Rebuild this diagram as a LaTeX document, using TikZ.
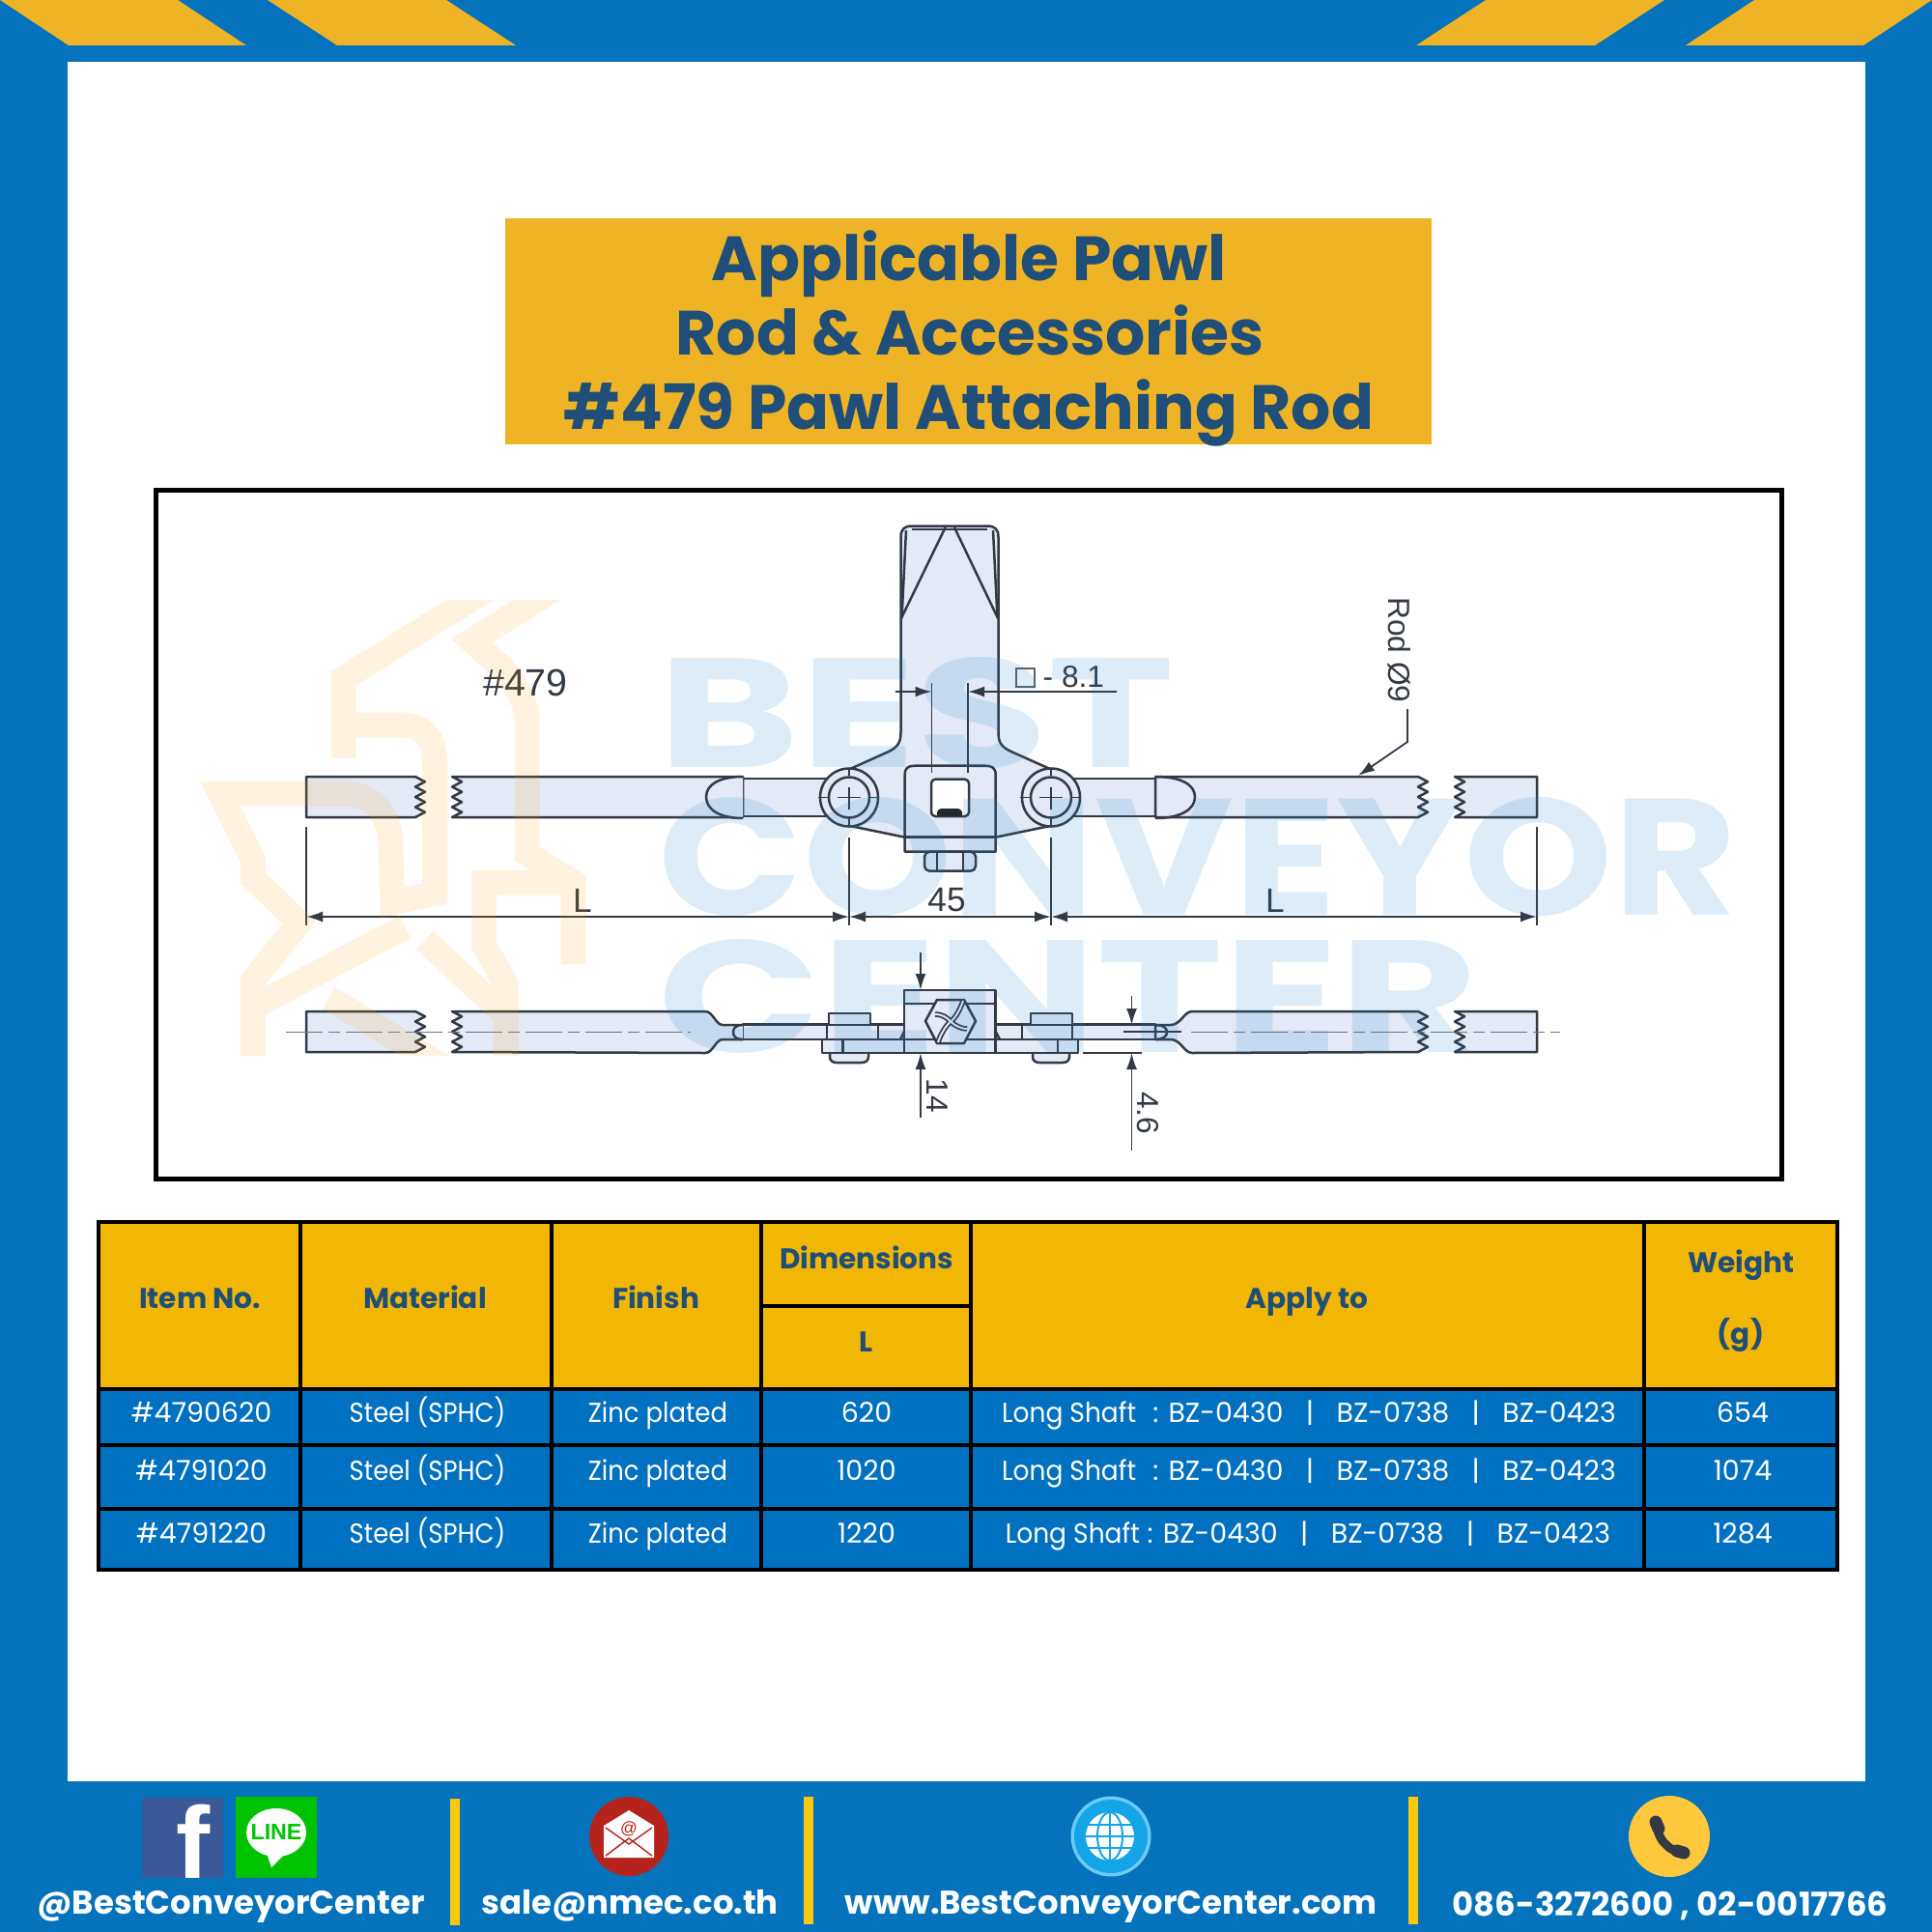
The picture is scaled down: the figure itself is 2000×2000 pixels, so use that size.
\documentclass[tikz,border=0pt]{standalone}
\usepackage{fontspec}
\usepackage{graphicx}
\setmainfont{Poppins}
\newfontfamily\lib{Liberation Sans}
\usetikzlibrary{arrows.meta}
\definecolor{frameblue}{HTML}{0473BC}
\definecolor{gold}{HTML}{EFB326}
\definecolor{titleblue}{HTML}{1F4E79}
\definecolor{headgold}{HTML}{F2B705}
\definecolor{rowblue}{HTML}{0070C0}
\definecolor{barY}{HTML}{FFC80A}
\definecolor{partfill}{HTML}{E3EAF6}
\definecolor{ink}{HTML}{343A44}
\definecolor{wmblue}{HTML}{1F80C4}
\definecolor{fbblue}{HTML}{3B5998}
\definecolor{linegreen}{HTML}{00C300}
\definecolor{mailred}{HTML}{B5231C}
\definecolor{globeA}{HTML}{6CCBF5}
\definecolor{globeB}{HTML}{14A5E8}
\definecolor{phoneY}{HTML}{FFC83D}
\tikzset{
  part/.style={draw=ink,fill=partfill,line width=0.025cm,line join=round},
  partline/.style={draw=ink,line width=0.025cm},
  dimline/.style={draw=ink,line width=0.018cm},
  tipend/.style={-{Latex[length=0.17cm,width=0.11cm]}},
  tipboth/.style={{Latex[length=0.17cm,width=0.11cm]}-{Latex[length=0.17cm,width=0.11cm]}},
  centreline/.style={draw=ink!70,line width=0.012cm,dash pattern=on 0.38cm off 0.06cm on 0.12cm off 0.06cm},
  dimtext/.style={font=\lib\fontsize{10}{12}\selectfont,text=ink,inner sep=0pt},
  dimsmall/.style={font=\lib\fontsize{9}{11}\selectfont,text=ink,inner sep=0pt},
  titletext/.style={font=\bfseries\fontsize{18.4}{22}\selectfont,text=titleblue,inner sep=0pt,anchor=base},
  headtext/.style={font=\bfseries\fontsize{8.4}{10}\selectfont,text=titleblue,inner sep=0pt,anchor=base},
  celltext/.style={font=\fontsize{8.1}{10}\selectfont,text=white,inner sep=0pt,anchor=base},
  foot/.style={font=\bfseries\fontsize{9.65}{12}\selectfont,text=white,inner sep=0pt,anchor=base},
  wmtext/.style={inner sep=0pt,text=wmblue,text opacity=0.15},
  cellhead/.style={fill=headgold,draw=black,line width=0.04cm},
  cellrow/.style={fill=rowblue,draw=black,line width=0.04cm},
}
% piece of rod with a broken (zigzag) edge at x=#1 and a straight end at x=#2, top y=#3
\newcommand\zigpiece[3]{\draw[part] (#2,#3) -- (#1-4,#3) -- (#1+6,#3+5.25) -- (#1-4,#3+10.5) -- (#1+6,#3+15.75) -- (#1-4,#3+21) -- (#1+6,#3+26.25) -- (#1-4,#3+31.5) -- (#1+6,#3+36.75) -- (#1-4,#3+42) -- (#2,#3+42) -- cycle;}
\newcommand\cond[1]{\scalebox{0.91}[1]{#1}}
\newcommand\longshaft{\scalebox{0.93}[1]{Long Shaft}}
\newcommand\barsep{\hspace{0.82em}|\hspace{0.82em}}
\begin{document}
\begin{tikzpicture}[x=0.01cm,y=-0.01cm]
\useasboundingbox (0,0) rectangle (2000,2000);
% frame
\fill[frameblue] (0,0) rectangle (2000,2000);
\fill[white] (70,64) rectangle (1931,1844);
\fill[gold] (0,0) -- (184,0) -- (255,47) -- (71,47) -- cycle;
\fill[gold] (277,0) -- (462,0) -- (534,47) -- (349,47) -- cycle;
\fill[gold] (2000,0) -- (1816,0) -- (1745,47) -- (1929,47) -- cycle;
\fill[gold] (1723,0) -- (1538,0) -- (1466,47) -- (1651,47) -- cycle;
% title
\fill[gold] (523,226) rectangle (1482,460);
\node[titletext] (t1) at (1003,291) {Applicable Pawl};
\node[titletext] (t2) at (1004,367.5) {Rod \& Accessories};
\node[titletext] (t3) at (1003,444) {\#479 Pawl Attaching Rod};
% drawing frame
\draw[black,line width=0.05cm,fill=white] (161,507) rectangle (1844,1220);

%% TOP VIEW
\draw[part] (769,806) rectangle (870,845);
\draw[part] (1100,806) rectangle (1196,845);
\zigpiece{434}{317}{804}
\zigpiece{472}{769}{804}
\draw[part] (769,804) .. controls (745,804) and (731,812) .. (731,825) .. controls (731,838) and (745,847) .. (769,847);
\zigpiece{1472}{1196}{804}
\zigpiece{1510}{1591}{804}
\draw[part,fill=none] (1196,804) .. controls (1222,804) and (1237,812) .. (1237,825) .. controls (1237,838) and (1222,847) .. (1196,847);
% T handle
\draw[part] (880,796) -- (920,778) .. controls (930,773) and (932.5,768) .. (932.5,758) -- (932.5,556) .. controls (932.5,548) and (936,544.5) .. (944,544.5) -- (1022,544.5) .. controls (1030,544.5) and (1033.5,548) .. (1033.5,556) -- (1033.5,758) .. controls (1033.5,768) and (1036,773) .. (1046.7,778) -- (1087,796) -- (1087,855) -- (1030.7,866.7) -- (936.7,866.7) -- (880,855) -- cycle;
\draw[partline] (978.6,546) -- (933,640) (988,546) -- (1033,640);
\draw[partline] (938,549) -- (933.5,640) (1028,549) -- (1032.5,640);
\draw[partline] (944,548) -- (1022,548);
% plate
\draw[part] (936.7,881.7) -- (936.7,802) .. controls (936.7,795) and (940,792.7) .. (947,792.7) -- (1020,792.7) .. controls (1027,792.7) and (1030.7,795) .. (1030.7,802) -- (1030.7,881.7) -- cycle;
\draw[partline] (936.7,866.7) -- (1030.7,866.7);
\draw[part,fill=white,rounded corners=1.2pt] (964,806.7) rectangle (1003,845);
\fill[ink!70!black,rounded corners=1pt] (969,845) -- (971,837) -- (995,837) -- (997,845) -- cycle;
% nut
\draw[part,rounded corners=1.5pt] (957,881.7) -- (1010,881.7) -- (1010,901.7) -- (957,901.7) -- cycle;
\draw[partline] (970,881.7) -- (970,901.7) (997,881.7) -- (997,901.7);
% collars
\node[part,circle,minimum size=0.6cm,inner sep=0pt] (collarL) at (879,825.5) {};
\node[part,circle,minimum size=0.42cm,inner sep=0pt] (holeL) at (879,825.5) {};
\node[part,circle,minimum size=0.6cm,inner sep=0pt] (collarR) at (1088,825.5) {};
\node[part,circle,minimum size=0.42cm,inner sep=0pt] (holeR) at (1088,825.5) {};
\draw[partline,line width=0.014cm] (846.7,825.5) -- (856.7,825.5) (867,825.5) -- (891,825.5) (900,825.5) -- (910,825.5) (879,795) -- (879,803) (879,815) -- (879,838) (879,847) -- (879,855);
\draw[partline,line width=0.014cm] (1055.7,825.5) -- (1065.7,825.5) (1076,825.5) -- (1100,825.5) (1109,825.5) -- (1119,825.5) (1088,795) -- (1088,803) (1088,815) -- (1088,838) (1088,847) -- (1088,855);

%% SIDE VIEW
\zigpiece{434}{317}{1047}
\draw[part] (769,1061) -- (748,1061) .. controls (741,1061) and (738,1047) .. (730,1047) -- (468,1047) -- (478,1052.25) -- (468,1057.5) -- (478,1062.75) -- (468,1068) -- (478,1073.25) -- (468,1078.5) -- (478,1083.75) -- (468,1089) -- (730,1090) .. controls (738,1090) and (741,1076) .. (748,1076) -- (769,1076) -- cycle;
\draw[part] (769,1060.7) rectangle (1196,1076);
\draw[part] (1196,1061) -- (1212,1061) .. controls (1222,1061) and (1226,1047) .. (1234,1047) -- (1468,1047) -- (1478,1052.25) -- (1468,1057.5) -- (1478,1062.75) -- (1468,1068) -- (1478,1073.25) -- (1468,1078.5) -- (1478,1083.75) -- (1468,1089) -- (1234,1090) .. controls (1226,1090) and (1222,1076) .. (1212,1076) -- (1196,1076) -- cycle;
\zigpiece{1510}{1591}{1047}
\draw[part] (769,1061) .. controls (762,1061) and (759,1064) .. (759,1068.5) .. controls (759,1073) and (762,1076) .. (769,1076);
\draw[part,fill=none] (1196,1061) -- (1196,1076);
\draw[part,fill=none] (1196,1061) .. controls (1204,1061) and (1208,1064) .. (1208,1068.5) .. controls (1208,1073) and (1204,1076) .. (1196,1076);
% base plate and bolts
\draw[part] (859,1090) -- (859,1094) .. controls (859,1098) and (862,1100) .. (866,1100) -- (892,1100) .. controls (896,1100) and (899,1098) .. (899,1094) -- (899,1090);
\draw[part] (1069,1090) -- (1069,1094) .. controls (1069,1098) and (1072,1100) .. (1076,1100) -- (1100,1100) .. controls (1104,1100) and (1107,1098) .. (1107,1094) -- (1107,1090);
\draw[part] (851,1076) rectangle (1116,1090);
\draw[partline] (872.3,1076) -- (872.3,1090) (1095,1076) -- (1095,1090);
\draw[part] (858,1049) rectangle (901,1061);
\draw[part] (856,1061) rectangle (909,1076);
\draw[part] (1067,1049) rectangle (1110,1061);
\draw[part] (1058,1061) rectangle (1110,1076);
\draw[part] (936,1025) rectangle (1030.7,1090);
\draw[partline] (936,1039) -- (1030.7,1039) (936,1076) -- (1030.7,1076);
\draw[partline] (936,1068) -- (932,1076) (1030.7,1068) -- (1035,1076);
% hex screw
\draw[part] (958,1057) -- (970,1035) -- (998,1035) -- (1010,1057) -- (998,1080) -- (970,1080) -- cycle;
\draw[partline,line width=0.055cm] (968,1050) .. controls (976,1050) and (981,1054) .. (984,1057.5) .. controls (989,1054) and (994,1045) .. (997,1036) (971,1079) .. controls (974,1070) and (979,1062) .. (984,1057.5) .. controls (989,1062) and (995,1065) .. (1001,1065);
\draw[draw=partfill,line width=0.02cm] (968,1050) .. controls (976,1050) and (981,1054) .. (984,1057.5) .. controls (989,1054) and (994,1045) .. (997,1036) (971,1079) .. controls (974,1070) and (979,1062) .. (984,1057.5) .. controls (989,1062) and (995,1065) .. (1001,1065);
% centre lines
\draw[centreline] (296,1068.5) -- (715,1068.5);
\draw[centreline] (1233,1068.5) -- (1615,1068.5);
\draw[dimline,line width=0.012cm] (1163,1068) -- (1223,1068);

%% DIMENSIONS
\draw[dimline] (317,856) -- (317,958) (879,867) -- (879,958) (1088,867) -- (1088,958) (1591,856) -- (1591,958);
\coordinate (dA) at (317,949); \coordinate (dB) at (879,949); \coordinate (dC) at (1088,949); \coordinate (dD) at (1591,949);
\draw[dimline,tipboth] (dA) -- (dB);
\draw[dimline,tipboth] (dB) -- (dC);
\draw[dimline,tipboth] (dC) -- (dD);
\node[dimtext] (dimL1) at (603,932) {L};
\node[dimtext] (dim45) at (980,932) {45};
\node[dimtext] (dimL2) at (1320,932) {L};
\node[font=\lib\fontsize{11.2}{13}\selectfont,text=ink,inner sep=0pt] (partno) at (544,706.5) {\#479};
% 8.1
\draw[dimline] (964.5,707) -- (964.5,800) (1002,707) -- (1002,800);
\coordinate (sqA) at (927,716); \coordinate (sqB) at (964.5,716); \coordinate (sqC) at (1156,716); \coordinate (sqD) at (1002,716);
\draw[dimline,tipend] (sqA) -- (sqB);
\draw[dimline,tipend] (sqC) -- (sqD);
\draw[dimline,draw=ink!80] (1052,692) rectangle (1071,711);
\node[dimsmall,anchor=west] (dim81) at (1079,701) {- 8.1};
% Rod dia
\node[dimsmall,rotate=-90] (rodd) at (1449,673) {Rod Ø9};
\coordinate (ldA) at (1457,734); \coordinate (ldB) at (1457,768); \coordinate (ldC) at (1406,803);
\draw[dimline,tipend] (ldA) -- (ldB) -- (ldC);
% 14
\coordinate (f1) at (953,986); \coordinate (f2) at (953,1025); \coordinate (f3) at (953,1157); \coordinate (f4) at (953,1090);
\draw[dimline,tipend] (f1) -- (f2);
\draw[dimline,tipend] (f3) -- (f4);
\node[dimsmall,rotate=-90] (dim14) at (970,1134) {14};
% 4.6
\coordinate (g1) at (1171.5,1031); \coordinate (g2) at (1171.5,1061); \coordinate (g3) at (1171.5,1191); \coordinate (g4) at (1171.5,1090);
\draw[dimline,tipend] (g1) -- (g2);
\draw[dimline,tipend] (g3) -- (g4);
\draw[dimline] (1121,1090) -- (1182,1090);
\node[dimsmall,rotate=-90] (dim46) at (1188,1152) {4.6};

%% WATERMARK
\begin{scope}[shift={(200,500)},x=0.005102cm,y=-0.004591cm]
\clip (-10,265) rectangle (810,1290);
\draw[draw=orange!75!yellow,opacity=0.12,line width=0.26cm,miter limit=6,line join=miter]
 (630,217) -- (305,440) -- (305,620)
 (305,545) -- (420,545) .. controls (470,545) and (490,580) .. (490,625) -- (490,925) -- (405,945) -- (400,800) .. controls (395,740) and (360,700) .. (310,700) -- (55,700) -- (122,850) -- (122,890) -- (215,990) -- (122,1120) -- (122,1310)
 (122,1180) -- (430,1000)
 (765,217) -- (565,355) -- (630,420) .. controls (660,460) and (678,500) .. (678,540) -- (678,835) -- (772,900) -- (772,1085)
 (772,900) -- (590,900) -- (590,1040) -- (635,1130) -- (635,1310)
 (470,1030) -- (635,1200)
 (275,1160) -- (530,1330);
\end{scope}
\node[wmtext] (wm1) at (949,738) {\resizebox{5.34cm}{1.14cm}{\bfseries BEST}};
\node[wmtext] (wm2) at (1240,887) {\resizebox{11.16cm}{1.22cm}{\bfseries CONVEYOR}};
\node[wmtext] (wm3) at (1106,1031) {\resizebox{8.48cm}{1.17cm}{\bfseries CENTER}};

%% TABLE
\draw[cellhead] (102,1265) rectangle (310.5,1438);
\draw[cellhead] (310.5,1265) rectangle (570.5,1438);
\draw[cellhead] (570.5,1265) rectangle (788,1438);
\draw[cellhead] (788,1265) rectangle (1005,1352);
\draw[cellhead] (788,1352) rectangle (1005,1438);
\draw[cellhead] (1005,1265) rectangle (1701.5,1438);
\draw[cellhead] (1701.5,1265) rectangle (1902,1438);
\foreach \ya/\yb in {1438/1496,1496/1562,1562/1625}{
  \draw[cellrow] (102,\ya) rectangle (310.5,\yb);
  \draw[cellrow] (310.5,\ya) rectangle (570.5,\yb);
  \draw[cellrow] (570.5,\ya) rectangle (788,\yb);
  \draw[cellrow] (788,\ya) rectangle (1005,\yb);
  \draw[cellrow] (1005,\ya) rectangle (1701.5,\yb);
  \draw[cellrow] (1701.5,\ya) rectangle (1902,\yb);
}
\node[headtext] (h1) at (207,1354) {Item No.};
\node[headtext] (h2) at (440,1354) {Material};
\node[headtext] (h3) at (679,1354) {Finish};
\node[headtext] (h4) at (897,1313) {Dimensions};
\node[headtext] (h5) at (897,1399) {L};
\node[headtext] (h6) at (1353,1354) {Apply to};
\node[headtext] (h7) at (1802,1317) {Weight};
\node[headtext] (h8) at (1802,1391) {(g)};
% rows
\node[celltext] (a1) at (208.5,1472) {\#4790620};
\node[celltext] (b1) at (442.5,1472) {\cond{Steel (SPHC)}};
\node[celltext] (c1) at (681,1472) {\cond{Zinc plated}};
\node[celltext] (d1) at (897,1472) {620};
\node[celltext] (e1) at (1355,1472) {\longshaft\hspace{0.6em}: BZ-0430\barsep BZ-0738\barsep BZ-0423};
\node[celltext] (f1n) at (1804,1472) {654};
\node[celltext] (a2) at (208.5,1532) {\#4791020};
\node[celltext] (b2) at (442.5,1532) {\cond{Steel (SPHC)}};
\node[celltext] (c2) at (681,1532) {\cond{Zinc plated}};
\node[celltext] (d2) at (897,1532) {1020};
\node[celltext] (e2) at (1355,1532) {\longshaft\hspace{0.6em}: BZ-0430\barsep BZ-0738\barsep BZ-0423};
\node[celltext] (f2n) at (1804,1532) {1074};
\node[celltext] (a3) at (208.5,1597) {\#4791220};
\node[celltext] (b3) at (442.5,1597) {\cond{Steel (SPHC)}};
\node[celltext] (c3) at (681,1597) {\cond{Zinc plated}};
\node[celltext] (d3) at (897,1597) {1220};
\node[celltext] (e3) at (1354,1597) {\longshaft\ : BZ-0430\barsep BZ-0738\barsep BZ-0423};
\node[celltext] (f3n) at (1804,1597) {1284};

%% FOOTER
\fill[barY] (466,1862) rectangle (476,1993);
\fill[barY] (832,1860) rectangle (842,1992);
\fill[barY] (1458,1860) rectangle (1468,1992);
% facebook
\fill[fbblue] (147,1861) rectangle (231,1944);
\node[font=\lib\bfseries\fontsize{30}{30}\selectfont,text=white,inner sep=0pt,anchor=base] (fbf) at (200,1944) {f};
% line
\fill[linegreen] (244,1860) rectangle (328,1944);
\fill[white] (286,1897) ellipse [x radius=31,y radius=25];
\fill[white] (276,1918) -- (281,1933) -- (296,1918) -- cycle;
\node[font=\lib\bfseries\fontsize{6.6}{8}\selectfont,text=linegreen,inner sep=0pt] (linetxt) at (286,1896) {LINE};
% mail
\fill[mailred] (651,1901) circle (41);
\fill[white] (625,1890) -- (651,1874) -- (677,1890) -- (677,1923) -- (625,1923) -- cycle;
\draw[mailred,line width=0.014cm] (627,1921) -- (651,1903) -- (675,1921) (627,1892) -- (651,1909) -- (675,1892);
\node[font=\lib\fontsize{5}{6}\selectfont,text=mailred,inner sep=0pt] (at) at (651,1893) {@};
% globe
\fill[globeA] (1150,1901) circle (41.5);
\fill[globeB] (1150,1901) circle (38);
\fill[white] (1149,1901) circle (25);
\draw[globeB,line width=0.02cm] (1124,1889) -- (1174,1889) (1124,1901) -- (1174,1901) (1124,1913) -- (1174,1913) (1149,1876) -- (1149,1926);
\draw[globeB,line width=0.02cm] (1149,1901) ellipse [x radius=13,y radius=25];
% phone
\fill[phoneY] (1728,1901) circle (42);
\draw[ink,line width=0.09cm,line cap=round] (1716,1888) .. controls (1713,1900) and (1728,1918) .. (1741,1917);
\draw[ink,line width=0.13cm,line cap=round] (1714,1886) -- (1717,1893) (1736,1916) -- (1743,1918);
% footer text
\node[foot] (ft1) at (239,1981.5) {@BestConveyorCenter};
\node[foot] (ft2) at (652,1981.5) {sale@nmec.co.th};
\node[foot] (ft3) at (1150,1981.5) {www.BestConveyorCenter.com};
\node[foot] (ft4) at (1729,1983) {086-3272600 , 02-0017766};
\end{tikzpicture}
\end{document}
